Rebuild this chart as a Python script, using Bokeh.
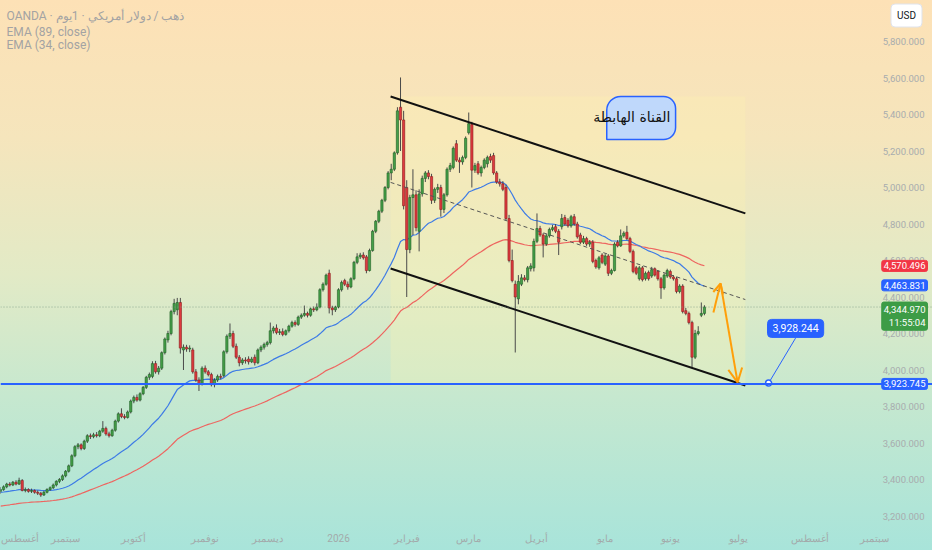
import numpy as np
from bokeh.plotting import figure
from bokeh.models import (Range1d, FixedTicker, Label, Span, Arrow, OpenHead, ColumnDataSource)
from bokeh.core.properties import value
from bokeh.embed import file_html
from bokeh.resources import INLINE

# ---------------- data (daily XAU/USD, bar index = trading day) ----------------
opens = [3335,3345,3360,3375,3370,3385,3375,3395,3340,3345,3335,3340,3330,3325,3315,3330,3345,3355,3370,3390,
         3400,3420,3445,3475,3530,3580,3590,3570,3610,3640,3635,3645,3640,3665,3680,3650,3640,3670,3720,3760,
         3745,3740,3770,3830,3850,3835,3870,3905,3960,3965,4035,3990,4010,4095,4165,4200,4320,4330,4370,4110,
         4125,4115,4110,3990,3945,3925,4010,3990,3975,3920,3945,3965,3970,4100,4185,4200,4130,4070,4040,4055,
         4060,4045,4070,4040,4110,4125,4140,4150,4215,4230,4205,4210,4195,4215,4240,4260,4250,4290,4300,4310,
         4300,4335,4330,4345,4440,4470,4530,4340,4330,4345,4440,4490,4470,4455,4500,4590,4620,4630,4620,4545,
         4655,4760,4815,4870,4930,5000,5080,5100,5190,5440,5370,5000,4660,4945,4960,4760,4965,5050,5080,5060,
         4930,4990,5000,4880,4960,5100,5110,5240,5150,5140,5165,5300,5345,5095,5130,5080,5110,5130,5170,5175,
         5080,5030,5020,5000,4830,4600,4470,4390,4470,4505,4495,4555,4560,4705,4775,4740,4690,4735,4770,4785,
         4760,4785,4835,4820,4790,4840,4800,4740,4700,4720,4690,4700,4600,4560,4630,4580,4625,4530,4545,4700,
         4680,4735,4755,4720,4650,4560,4500,4560,4500,4535,4515,4555,4540,4500,4450,4515,4540,4510,4500,4430,
         4460,4325,4310,4260,4070,4200,4300,4310]
highs = [3358,3368,3382,3386,3392,3396,3410,3402,3356,3352,3350,3346,3340,3332,3338,3352,3362,3378,3396,3408,
         3428,3452,3482,3538,3588,3600,3598,3618,3648,3652,3656,3660,3672,3720,3690,3662,3678,3728,3768,3790,
         3758,3778,3838,3860,3866,3878,3912,3968,3986,4048,4050,4022,4102,4178,4215,4330,4390,4395,4395,4140,
         4138,4135,4122,4005,3960,4020,4025,4000,3985,3955,3975,3980,4108,4195,4255,4215,4145,4082,4065,4070,
         4075,4072,4085,4118,4135,4150,4160,4260,4240,4250,4225,4228,4222,4248,4270,4272,4298,4310,4353,4320,
         4342,4348,4365,4448,4480,4528,4550,4352,4352,4448,4490,4500,4485,4508,4598,4640,4642,4645,4630,4665,
         4768,4822,4878,4938,5008,5090,5130,5198,5440,5603,5420,5040,4960,5100,4985,4990,5065,5090,5095,5075,
         5000,5020,5015,4970,5110,5135,5225,5260,5165,5175,5280,5411,5360,5135,5145,5120,5160,5175,5185,5190,
         5090,5048,5035,5015,4850,4660,4490,4520,4525,4520,4570,4585,4720,4858,4790,4750,4745,4780,4795,4800,
         4772,4855,4850,4832,4850,4855,4812,4752,4735,4730,4712,4712,4610,4625,4640,4635,4635,4555,4700,4712,
         4770,4760,4790,4730,4660,4570,4570,4570,4540,4545,4565,4562,4548,4510,4530,4555,4550,4520,4510,4470,
         4470,4340,4320,4270,4220,4240,4370,4355]
lows = [3322,3338,3352,3362,3364,3368,3370,3335,3330,3328,3326,3322,3315,3305,3310,3324,3338,3348,3362,3380,
        3392,3412,3438,3468,3522,3566,3560,3562,3600,3622,3626,3630,3632,3656,3640,3630,3634,3662,3712,3736,
        3730,3734,3762,3818,3826,3828,3862,3896,3946,3955,3980,3975,4000,4085,4150,4190,4305,4300,4090,4000,
        4100,4098,3980,3935,3885,3915,3980,3965,3910,3905,3935,3948,3960,4090,4170,4120,4060,4020,4028,4035,
        4030,4038,4025,4032,4098,4112,4128,4140,4200,4195,4192,4185,4188,4205,4232,4238,4242,4280,4292,4288,
        4292,4318,4322,4338,4430,4462,4310,4300,4318,4338,4430,4460,4440,4448,4492,4580,4608,4605,4530,4540,
        4648,4750,4805,4860,4920,4990,5040,5090,5180,5200,4880,4400,4640,4740,4760,4650,4950,5030,5045,4910,
        4915,4970,4840,4860,4950,5085,5100,5140,5080,5125,5155,5290,5000,5080,5070,5060,5100,5110,5135,5070,
        5020,5005,4980,4820,4590,4480,4096,4360,4460,4485,4480,4540,4540,4695,4730,4617,4680,4725,4760,4750,
        4630,4770,4790,4780,4780,4790,4720,4690,4690,4680,4675,4585,4555,4550,4580,4570,4515,4520,4540,4672,
        4675,4725,4712,4640,4530,4520,4490,4485,4490,4490,4505,4512,4490,4390,4440,4505,4500,4490,4420,4420,
        4310,4300,4250,4014,4060,4190,4290,4300]
closes = [3345,3360,3375,3370,3385,3375,3395,3340,3345,3335,3340,3330,3325,3315,3330,3345,3355,3370,3390,3400,
          3420,3445,3475,3530,3580,3590,3570,3610,3640,3635,3645,3640,3665,3680,3650,3640,3670,3720,3760,3745,
          3740,3770,3830,3850,3835,3870,3905,3960,3975,4035,3990,4010,4095,4170,4200,4320,4365,4370,4120,4125,
          4115,4120,3990,3945,3925,4010,3990,3975,3920,3945,3965,3960,4100,4185,4200,4130,4070,4040,4055,4050,
          4045,4060,4040,4110,4125,4140,4150,4215,4230,4205,4210,4195,4215,4240,4260,4250,4290,4300,4310,4300,
          4335,4330,4345,4440,4470,4520,4340,4330,4345,4440,4480,4470,4455,4500,4590,4620,4630,4615,4545,4655,
          4760,4815,4870,4930,5000,5080,5100,5190,5420,5370,4900,4660,4945,4960,4780,4965,5050,5080,5060,4930,
          4990,5000,4880,4960,5100,5120,5215,5150,5140,5165,5270,5350,5095,5120,5080,5110,5150,5165,5150,5080,
          5030,5020,4990,4830,4600,4490,4400,4485,4505,4495,4560,4570,4705,4775,4740,4690,4735,4770,4780,4760,
          4700,4830,4800,4790,4840,4800,4730,4700,4720,4690,4700,4595,4565,4615,4590,4625,4530,4545,4690,4680,
          4735,4750,4720,4650,4540,4530,4560,4495,4530,4500,4550,4520,4500,4450,4520,4545,4510,4500,4430,4460,
          4320,4310,4260,4070,4200,4210,4310,4344.97]

# EMA starting values (EMA level at the first visible bar)
ema34_seed = 3329
ema89_seed = 3252

# x-axis month ticks (bar index of first trading day) and labels
month_ticks = [0, 21, 43, 66, 86, 109, 131, 151, 173, 195, 216, 238, 261, 282]
month_labels = ["أغسطس", "سبتمبر", "أكتوبر", "نوفمبر", "ديسمبر", "2026", "فبراير", "مارس",
                "أبريل", "مايو", "يونيو", "يوليو", "أغسطس", "سبتمبر"]
price_ticks = [3200, 3400, 3600, 3800, 4000, 4200, 4400, 4600, 4800, 5000, 5200, 5400, 5600, 5800]

# price labels on the scale
ema89_last = 4570.496
ema34_last = 4463.831
last_price = 4344.970
countdown = "11:55:04"
support_level = 3923.745
target_value = 3928.244

# drawings: descending channel (bar index, price)
chan_x = [125.8, 240.2]
chan_upper = [5499, 4858]
chan_lower = [4556, 3915]
chan_mid = [5028, 4386]
# projection arrows (bar index, price)
arrow_x = [229.9, 232.2, 237.7]
arrow_y = [4315, 4474, 3932]
# callout for target
target_box_x = 256.4
target_box_y = 4228
target_point_x = 247.7
target_stem_y = 4175
# title shape
title_text = "القناة الهابطة"
title_box_x = [195.5, 217.7]
title_box_y = [5263, 5499]
title_text_x = 203.6
title_text_y = 5384

# ---------------- computations ----------------
def ema(vals, n, seed):
    a = 2.0 / (n + 1)
    out, e = [], seed
    for v in vals:
        e = a * v + (1 - a) * e
        out.append(e)
    return out

idx = list(range(len(closes)))
ema34 = ema(closes, 34, ema34_seed)
ema89 = ema(closes, 89, ema89_seed)

up = [c >= o for o, c in zip(opens, closes)]
src = ColumnDataSource(dict(
    x=idx, o=opens, h=highs, l=lows, c=closes,
    top=[max(o, c) for o, c in zip(opens, closes)],
    bot=[min(o, c) for o, c in zip(opens, closes)],
    fill=["#45a048" if u else "#df3a3f" for u in up],
    line=["#1f5e25" if u else "#8c1c1c" for u in up],
))

# ---------------- figure ----------------
W, FH = 932, 525
x_end = 300.55
p = figure(frame_width=W, frame_height=FH, x_range=Range1d(0, x_end),
           y_range=Range1d(3148, 6024.7), output_backend="svg", toolbar_location=None,
           y_axis_location=None, min_border_left=0, min_border_top=0,
           min_border_right=0, min_border_bottom=25)
p.background_fill_alpha = 0
p.border_fill_alpha = 0
p.outline_line_color = None
p.grid.grid_line_color = None

ax = p.xaxis[0]
ax.ticker = FixedTicker(ticks=month_ticks)
ax.major_label_overrides = {t: l for t, l in zip(month_ticks, month_labels)}
ax.axis_line_color = None
ax.major_tick_line_color = None
ax.major_tick_out = 0
ax.major_tick_in = 0
ax.minor_tick_line_color = None
ax.minor_tick_out = 0
ax.major_label_text_color = "#a3aaaa"
ax.major_label_text_font = "Roboto"
ax.major_label_text_font_size = "10px"
ax.major_label_standoff = 7

# channel background
p.quad(left=chan_x[0], right=chan_x[1], bottom=chan_lower[1], top=chan_upper[0],
       fill_color="#fff6b0", fill_alpha=0.28, line_color=None)

# price scale labels (drawn at the right edge of the chart)
p.text(x=[x_end] * len(price_ticks), y=price_ticks, text=[f"{t:,.3f}" for t in price_ticks],
       x_offset=-8, text_align="right", text_baseline="middle", text_color="#a8acae",
       text_font=value("Roboto"), text_font_size="9.5px")

# horizontal lines
p.add_layout(Span(location=support_level, dimension="width", line_color="#2962ff", line_width=2))
p.add_layout(Span(location=last_price, dimension="width", line_color="#7e9c86",
                  line_width=1, line_dash="1 2", line_alpha=0.8))

# EMAs
p.line(idx, ema89, line_color="#ee6560", line_width=1.2)
p.line(idx, ema34, line_color="#3d7be6", line_width=1.2)

# candles
p.segment(x0="x", y0="h", x1="x", y1="l", source=src, line_color="#4a4a4a", line_width=1)
p.vbar(x="x", width=0.72, top="top", bottom="bot", fill_color="fill", line_color="line",
       line_width=0.6, source=src)

# channel lines
p.line(chan_x, chan_upper, line_color="#111111", line_width=2)
p.line(chan_x, chan_lower, line_color="#111111", line_width=2)
p.line(chan_x, chan_mid, line_color="#555555", line_width=1, line_dash="4 3")

# projection arrows
orange = "#ff9f0a"
p.add_layout(Arrow(end=OpenHead(line_color=orange, line_width=2, size=10),
                   x_start=arrow_x[0], y_start=arrow_y[0], x_end=arrow_x[1], y_end=arrow_y[1],
                   line_color=orange, line_width=2))
p.add_layout(Arrow(end=OpenHead(line_color=orange, line_width=2, size=14),
                   x_start=arrow_x[1], y_start=arrow_y[1], x_end=arrow_x[2], y_end=arrow_y[2],
                   line_color=orange, line_width=2))

# target callout
p.segment(x0=[target_box_x], y0=[target_stem_y], x1=[target_point_x], y1=[target_value],
          line_color="#2962ff", line_width=1)
p.scatter([target_point_x], [target_value], size=6, fill_color="#ffffff",
          line_color="#2962ff", line_width=1.5)
p.add_layout(Label(x=target_box_x, y=target_box_y, text=f"{target_value:,.3f}",
                   text_align="center", text_baseline="middle", text_color="white",
                   text_font="Roboto", text_font_size="10.5px",
                   background_fill_color="#2962ff", border_line_color="#2962ff",
                   padding=5, border_radius=4))

# title box
p.quad(left=title_box_x[0], right=title_box_x[1], bottom=title_box_y[0], top=title_box_y[1],
       fill_color="#bfd8fb", line_color="#2962ff", line_width=1.5,
       border_radius=(14, 12, 12, 0))
p.text(x=[title_text_x], y=[title_text_y], text=[title_text], text_align="center",
       text_baseline="middle", text_color="#111111", text_font=value("DejaVu Sans"),
       text_font_size="14px")

# legend / header text (screen y measured from the bottom of the chart area)
hdr = dict(x_units="screen", y_units="screen", text_color="#a3a3a3",
           text_font="Roboto", text_font_size="12px", text_baseline="middle")
p.add_layout(Label(x=6, y=FH - 15, text="OANDA · ذهب / دولار أمريكي · 1يوم", **hdr))
p.add_layout(Label(x=6, y=FH - 31, text="EMA (89, close)", **hdr))
p.add_layout(Label(x=6, y=FH - 44, text="EMA (34, close)", **hdr))

# scale price tags (right-aligned at the scale's right edge)
TAG_X = 927
def scale_label(yv, txt, color, txtcolor="white"):
    p.add_layout(Label(x=TAG_X, x_units="screen", y=yv, text=txt, text_align="right",
                       text_baseline="middle", text_color=txtcolor, text_font="Roboto",
                       text_font_size="9.5px", background_fill_color=color,
                       border_line_color=color, padding=2, border_radius=2))

scale_label(ema89_last, f"{ema89_last:,.3f}", "#f23645")
scale_label(ema34_last, f"{ema34_last:,.3f}", "#2962ff")
scale_label(support_level, f"{support_level:,.3f}", "#2962ff")
p.add_layout(Label(x=TAG_X, x_units="screen", y=last_price, y_offset=5,
                   text=f"{last_price:,.3f}\n{countdown}", text_align="right",
                   text_baseline="top", text_color="white", text_font="Roboto",
                   text_font_size="9.5px", background_fill_color="#3d9c46",
                   border_line_color="#3d9c46", padding=2, border_radius=2))
p.add_layout(Label(x=906, x_units="screen", y=FH - 15, y_units="screen", text="USD",
                   text_align="center", text_baseline="middle", text_color="#131722",
                   text_font="Roboto", text_font_size="10px", background_fill_color="white",
                   border_line_color="#e0e3eb", padding=6, border_radius=4))

html = file_html(p, INLINE, title="XAUUSD")
style = ("<style>html{background:linear-gradient(180deg,#fde1b6 0%,#f5e5bc 25%,"
         "#e2eac6 50%,#c6e8cf 72%,#a8e4da 100%);min-height:100%;}"
         "body{background:transparent;}</style>")
html = html.replace("</head>", style + "</head>", 1)
open("out.html", "w").write(html)
